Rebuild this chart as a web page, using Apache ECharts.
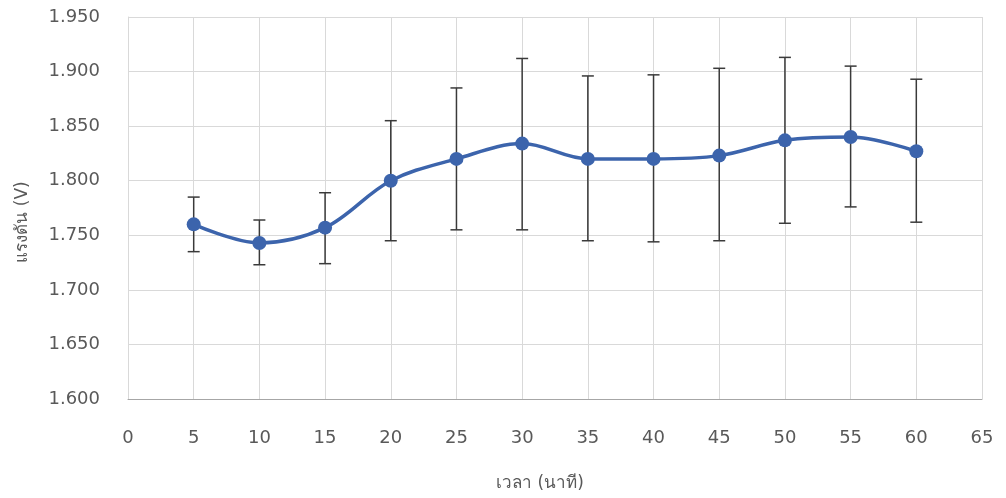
<!DOCTYPE html>
<html>
<head>
<meta charset="utf-8">
<script src="https://cdn.jsdelivr.net/npm/echarts@6/dist/echarts.min.js"></script>
<style>
html,body{margin:0;padding:0;background:#fff;}
#c{width:1006px;height:498px;}
</style>
</head>
<body>
<div id="c"></div>
<script>
const times = [5, 10, 15, 20, 25, 30, 35, 40, 45, 50, 55, 60];
const voltage = [1.760, 1.743, 1.757, 1.800, 1.820, 1.834, 1.820, 1.820, 1.823, 1.837, 1.840, 1.827];
const upper = [1.785, 1.764, 1.789, 1.855, 1.885, 1.912, 1.896, 1.897, 1.903, 1.913, 1.905, 1.893];
const lower = [1.735, 1.723, 1.724, 1.745, 1.755, 1.755, 1.745, 1.744, 1.745, 1.761, 1.776, 1.762];
const xTitle = 'เวลา (นาที)';
const yTitle = 'แรงดัน (V)';

const font = '"DejaVu Sans", "Noto Sans", sans-serif';
const chart = echarts.init(document.getElementById('c'));
const errData = times.map((t, i) => [t, lower[i], upper[i]]);
const lineData = times.map((t, i) => [t, voltage[i]]);

chart.setOption({
  animation: false,
  backgroundColor: '#fff',
  grid: {left: 128, right: 24, top: 17, bottom: 99},
  xAxis: {
    type: 'value', min: 0, max: 65, interval: 5,
    name: xTitle, nameLocation: 'middle', nameGap: 76,
    nameTextStyle: {color: '#595959', fontSize: 17, fontFamily: font, padding: [0, 30, 0, 0]},
    axisLine: {show: true, lineStyle: {color: '#a6a6a6'}},
    axisTick: {show: false},
    axisLabel: {color: '#595959', fontSize: 18, fontFamily: font, margin: 30},
    splitLine: {show: true, lineStyle: {color: '#d9d9d9'}}
  },
  yAxis: {
    type: 'value', min: 1.6, max: 1.95, interval: 0.05,
    name: yTitle, nameLocation: 'middle', nameGap: 97,
    nameTextStyle: {color: '#595959', fontSize: 17, fontFamily: font, padding: [0, 28, 0, 0]},
    axisLine: {show: true, lineStyle: {color: '#d9d9d9'}},
    axisTick: {show: false},
    axisLabel: {color: '#595959', fontSize: 18, fontFamily: font, margin: 28,
      formatter: v => v.toFixed(3)},
    splitLine: {show: true, lineStyle: {color: '#d9d9d9'}}
  },
  series: [
    {
      type: 'custom',
      z: 1,
      data: errData,
      renderItem: function (params, api) {
        const x = api.value(0);
        const lo = api.coord([x, api.value(1)]);
        const hi = api.coord([x, api.value(2)]);
        const w = 6;
        const st = {stroke: '#3a3a3a', lineWidth: 1.5};
        return {
          type: 'group',
          children: [
            {type: 'line', shape: {x1: lo[0], y1: lo[1], x2: hi[0], y2: hi[1]}, style: st},
            {type: 'line', shape: {x1: hi[0] - w, y1: hi[1], x2: hi[0] + w, y2: hi[1]}, style: st},
            {type: 'line', shape: {x1: lo[0] - w, y1: lo[1], x2: lo[0] + w, y2: lo[1]}, style: st}
          ]
        };
      }
    },
    {
      type: 'line',
      z: 3,
      data: lineData,
      smooth: 0.35,
      symbol: 'circle',
      symbolSize: 14,
      lineStyle: {color: '#3c64ac', width: 3.5},
      itemStyle: {color: '#3c64ac'}
    }
  ]
});
</script>
</body>
</html>
